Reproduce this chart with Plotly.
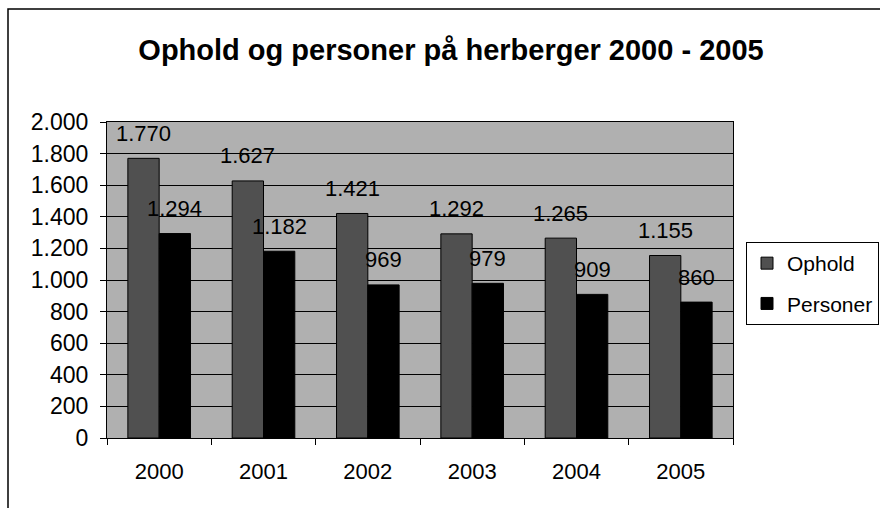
import plotly.graph_objects as go

years = ["2000", "2001", "2002", "2003", "2004", "2005"]
ophold = [1770, 1627, 1421, 1292, 1265, 1155]
personer = [1294, 1182, 969, 979, 909, 860]
y_ticks = [0, 200, 400, 600, 800, 1000, 1200, 1400, 1600, 1800, 2000]
title_text = "Ophold og personer på herberger 2000 - 2005"

FONT = "Liberation Sans, Arial, sans-serif"

def fmt(v):
    return f"{v:,}".replace(",", ".")

fig = go.Figure()
fig.add_trace(go.Bar(
    name="Ophold", x=years, y=ophold,
    marker=dict(color="#505050", line=dict(color="black", width=1)),
    legendgroup="a",
))
fig.add_trace(go.Bar(
    name="Personer", x=years, y=personer,
    marker=dict(color="black", line=dict(color="black", width=1)),
    legendgroup="b",
))

# data labels: category index positions on the category axis
for i, v in enumerate(ophold):
    fig.add_annotation(x=i, y=v, text=fmt(v), showarrow=False, xshift=-15.6, yshift=25,
                       font=dict(family=FONT, size=22, color="black"))
for i, v in enumerate(personer):
    fig.add_annotation(x=i, y=v, text=fmt(v), showarrow=False, xshift=15.6, yshift=25,
                       font=dict(family=FONT, size=22, color="black"))

# outer chart border
fig.add_shape(type="rect", xref="paper", yref="paper",
              x0=(8 - 107) / 626, x1=(900 - 107) / 626,
              y0=(438 - 530) / 316, y1=(438 - 9) / 316,
              line=dict(color="black", width=1.5), fillcolor="rgba(0,0,0,0)", layer="below")

fig.update_layout(
    width=880, height=508,
    margin=dict(l=107, r=147, t=122, b=70, autoexpand=False),
    paper_bgcolor="white",
    plot_bgcolor="#b0b0b0",
    separators=",.",
    barmode="group",
    bargap=0.4,
    bargroupgap=0,
    font=dict(family=FONT, size=21, color="black"),
    title=dict(text="<b>" + title_text + "</b>", x=451 / 880, xanchor="center",
               y=1 - 50 / 508, yanchor="middle", yref="container",
               font=dict(family=FONT, size=29, color="black")),
    legend=dict(x=(746 - 107) / 626, xanchor="left", y=(438 - 242) / 316, yanchor="top",
                bordercolor="black", borderwidth=1, bgcolor="white",
                font=dict(family=FONT, size=21, color="black"),
                traceorder="grouped", tracegroupgap=10),
    xaxis=dict(type="category", range=[-0.5, len(years) - 0.5],
               showline=True, linecolor="black", linewidth=1, mirror=True,
               ticks="outside", tickson="boundaries", ticklen=6, tickcolor="black",
               ticklabelstandoff=14, showgrid=False, tickfont=dict(size=22)),
    yaxis=dict(range=[0, 2000], tickvals=y_ticks, tickformat=",d",
               showline=True, linecolor="black", linewidth=1, mirror=True,
               ticks="outside", ticklen=6, tickcolor="black", ticklabelstandoff=7,
               showgrid=True, gridcolor="black", gridwidth=1, tickfont=dict(size=23),
               zeroline=True, zerolinecolor="black", zerolinewidth=1),
)

fig.write_html("out.html", config={"displayModeBar": False},
               post_script="document.body.style.margin='0';")
